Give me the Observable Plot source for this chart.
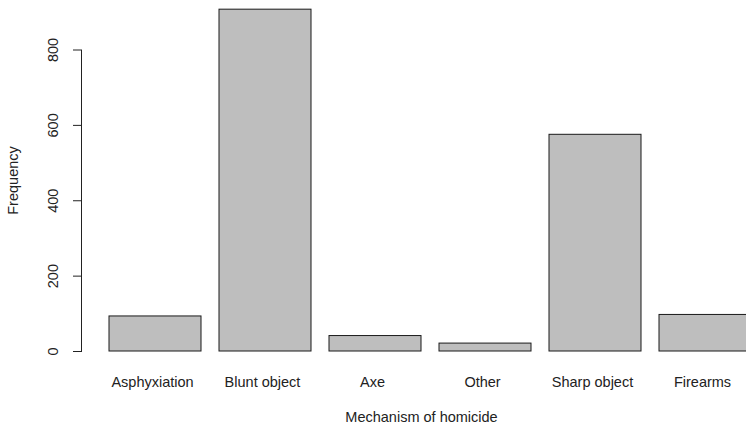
<!DOCTYPE html>
<html>
<head>
<meta charset="utf-8">
<script src="https://cdn.jsdelivr.net/npm/d3@7"></script>
<script src="https://cdn.jsdelivr.net/npm/@observablehq/plot@0.6"></script>
<style>
  html, body { margin: 0; padding: 0; background: #fff; }
  #chart svg { display: block; overflow: hidden; }
</style>
</head>
<body>
<div id="chart"></div>
<script>
const categories = ["Asphyxiation", "Blunt object", "Axe", "Other", "Sharp object", "Firearms"];
const frequencies = [93, 907, 41, 21, 575, 97];
const yTicks = [0, 200, 400, 600, 800];
const xTitle = "Mechanism of homicide";
const yTitle = "Frequency";

const data = categories.map((c, i) => ({category: c, value: frequencies[i]}));

const W = 746, H = 425;
const mL = 81, mR = 0, mT = 49.5, mB = 74;
const font = "Liberation Sans, Arial, Helvetica, sans-serif";

const chart = Plot.plot({
  width: W,
  height: H,
  marginLeft: mL,
  marginRight: mR,
  marginTop: mT,
  marginBottom: mB,
  style: {fontFamily: font, fontSize: "14.5px", color: "#222", background: "#fff"},
  x: {
    domain: categories,
    range: [106.7, 752.5],
    paddingInner: 1 / 6,
    paddingOuter: 0,
    axis: null
  },
  y: {
    domain: [0, 800],
    ticks: yTicks,
    tickSize: 8,
    tickPadding: 16,
    tickRotate: -90,
    line: true,
    label: null
  },
  marks: [
    Plot.barY(data, {x: "category", y: "value", fill: "#bebebe", stroke: "#1a1a1a", strokeWidth: 1}),
    Plot.axisX({tickSize: 0, tickPadding: 25, dx: -3, label: null}),
    Plot.text([xTitle], {text: d => d, frameAnchor: "bottom", textAnchor: "middle", lineAnchor: "middle", dx: 421 - (mL + W - mR) / 2, dy: 65.5, fontSize: 14.5}),
    Plot.text([yTitle], {text: d => d, frameAnchor: "left", textAnchor: "middle", lineAnchor: "middle", rotate: -90, dx: 13 - mL, dy: 180 - (mT + H - mB) / 2, fontSize: 14.5})
  ]
});

document.getElementById("chart").appendChild(chart);
</script>
</body>
</html>
